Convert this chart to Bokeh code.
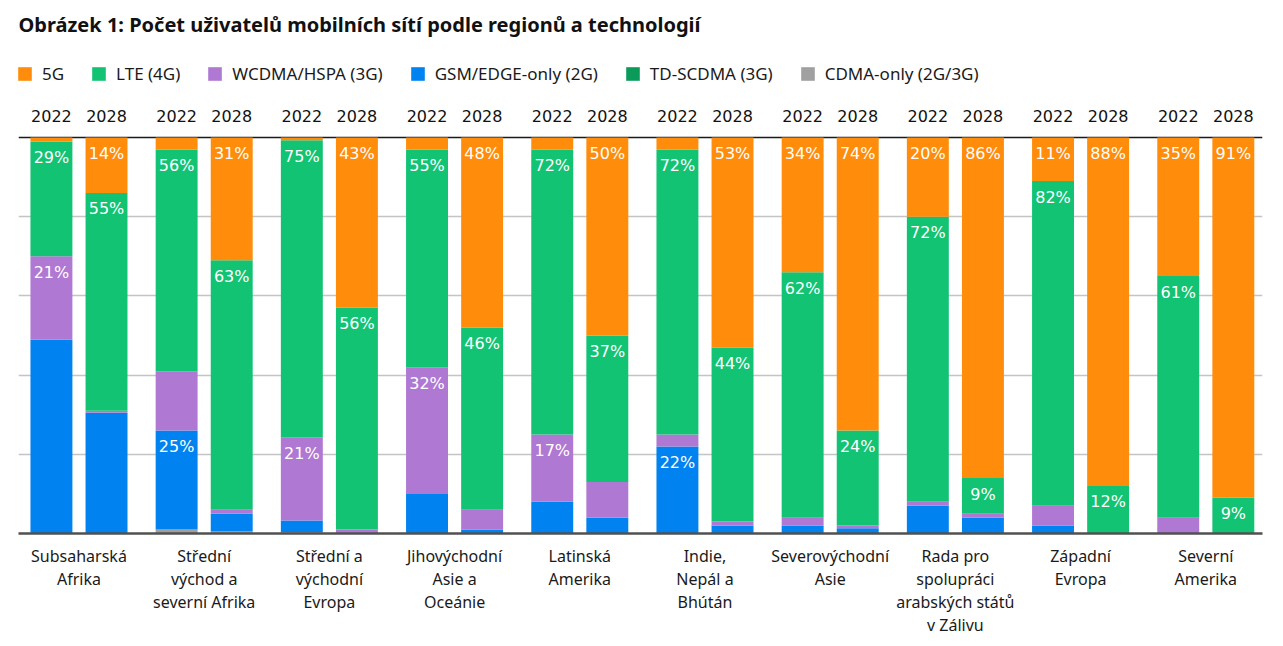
import numpy as np
from bokeh.plotting import figure
from bokeh.models import (ColumnDataSource, Range1d, FixedTicker, Grid, Legend, LegendItem)
from bokeh.core.properties import value
from bokeh.embed import file_html
from bokeh.resources import INLINE

title = "Obrázek 1: Počet uživatelů mobilních sítí podle regionů a technologií"

regions = ["Subsaharská\nAfrika", "Střední\nvýchod a\nseverní Afrika", "Střední a\nvýchodní\nEvropa",
           "Jihovýchodní\nAsie a\nOceánie", "Latinská\nAmerika", "Indie,\nNepál a\nBhútán",
           "Severovýchodní\nAsie", "Rada pro\nspolupráci\narabských států\nv Zálivu",
           "Západní\nEvropa", "Severní\nAmerika"]
years = ["2022", "2028"]

# values per region: (2022, 2028) pairs flattened, in %
cdma    = [0, 0,     1, 0.5,  0.3, 0,   0, 0,   0, 0,   0, 0,   0, 0,     0, 0,   0, 0,    0, 0]
gsm     = [49, 30.5, 25, 4.5, 3, 0,     10, 1,  8, 4,   22, 2,  2, 1.3,   7, 4,   2, 0,    0, 0]
wcdma   = [21, 0.5,  15, 1,   21, 1,    32, 5,  17, 9,  3, 1,   2, 0.7,   1, 1,   5, 0,    4, 0]
tdscdma = [0, 0,     0, 0,    0, 0,     0, 0,   0, 0,   0, 0,   0, 0,     0, 0,   0, 0,    0, 0]
lte     = [29, 55,   56, 63,  75, 56,   55, 46, 72, 37, 72, 44, 62, 24,   72, 9,  82, 12,  61, 9]
g5      = [1, 14,    3, 31,   0.7, 43,  3, 48,  3, 50,  3, 53,  34, 74,   20, 86, 11, 88,  35, 91]

# which segments carry a value label (per bar)
labeled = [["lte", "wcdma"], ["g5", "lte"], ["lte", "gsm"], ["g5", "lte"],
           ["lte", "wcdma"], ["g5", "lte"], ["lte", "wcdma"], ["g5", "lte"],
           ["lte", "wcdma"], ["g5", "lte"], ["lte", "gsm"], ["g5", "lte"],
           ["g5", "lte"], ["g5", "lte"], ["g5", "lte"], ["g5", "lte"],
           ["g5", "lte"], ["g5", "lte"], ["g5", "lte"], ["g5", "lte"]]

techs = ["cdma", "gsm", "wcdma", "tdscdma", "lte", "g5"]
names = {"g5": "5G", "lte": "LTE (4G)", "wcdma": "WCDMA/HSPA (3G)", "gsm": "GSM/EDGE-only (2G)",
         "tdscdma": "TD-SCDMA (3G)", "cdma": "CDMA-only (2G/3G)"}
colors = {"g5": "#FF8C0A", "lte": "#12C373", "wcdma": "#AF78D2", "gsm": "#0082F0",
          "tdscdma": "#0A9B5A", "cdma": "#A0A0A0"}
series = {"cdma": cdma, "gsm": gsm, "wcdma": wcdma, "tdscdma": tdscdma, "lte": lte, "g5": g5}

n = len(regions)
offset = 0.22
xs = []
for i in range(n):
    xs += [i + 0.5 - offset, i + 0.5 + offset]
data = {"x": xs}
data.update({t: series[t] for t in techs})
src = ColumnDataSource(data)

x0, x1 = 0.017, 9.953
ymax = 100 + 137 / 3.96

p = figure(width=1275, height=640, x_range=Range1d(x0, x1), y_range=Range1d(0, ymax),
           output_backend="svg", toolbar_location=None, y_axis_location=None,
           min_border_left=18, min_border_right=13, min_border_top=0, min_border_bottom=107)
p.outline_line_color = None
for g in list(p.xgrid) + list(p.ygrid):
    g.visible = False

renderers = p.vbar_stack(techs, x="x", width=0.335, source=src,
                         color=[colors[t] for t in techs], line_color=None)
rmap = dict(zip(techs, renderers))

p.add_layout(Grid(dimension=1, ticker=FixedTicker(ticks=[20, 40, 60, 80]),
                  grid_line_color="#c4c4c4", grid_line_width=1.5), "center")
p.add_layout(Grid(dimension=1, ticker=FixedTicker(ticks=[100]),
                  grid_line_color="#1a1a1a", grid_line_width=1.5), "center")

ax = p.xaxis[0]
ax.ticker = FixedTicker(ticks=[i + 0.5 for i in range(n)])
ax.major_label_overrides = {i + 0.5: regions[i] for i in range(n)}
ax.major_tick_line_color = None
ax.minor_tick_line_color = None
ax.axis_line_color = "#505050"
ax.axis_line_width = 2.5
ax.major_label_text_font = "Noto Sans"
ax.major_label_text_font_size = "16px"
ax.major_label_text_color = "#1a1a1a"
ax.major_label_text_line_height = 1.05
ax.major_label_standoff = 5

# year labels
p.text(x=xs, y=[100] * len(xs), text=years * n, text_align="center", text_baseline="middle",
       y_offset=-22, text_font=value("DejaVu Sans"), text_font_size="16px", text_color="#111111")

# value labels
stack = np.vstack([np.array(series[t], dtype=float) for t in techs])
tops = np.cumsum(stack, axis=0)
lx, ly, lt = [], [], []
for j in range(len(xs)):
    for t in labeled[j]:
        k = techs.index(t)
        lx.append(xs[j])
        ly.append(tops[k, j])
        lt.append(f"{series[t][j]:.0f}%")
p.text(x=lx, y=ly, text=lt, text_align="center", text_baseline="middle", y_offset=16,
       text_font=value("DejaVu Sans"), text_font_size="16px", text_color="white")

# title
p.text(x=[x0], y=[ymax], text=[title], text_align="left", text_baseline="middle",
       x_offset=0, y_offset=24, text_font=value("Noto Sans"), text_font_size="20px",
       text_font_style="bold", text_color="#111111")

legend_order = ["g5", "lte", "wcdma", "gsm", "tdscdma", "cdma"]
legend = Legend(items=[LegendItem(label=names[t], renderers=[rmap[t]]) for t in legend_order],
                orientation="horizontal", location=(-2, 448), padding=0, margin=0,
                glyph_width=17, glyph_height=17, label_standoff=9, spacing=26,
                label_text_font="Noto Sans", label_text_font_size="17px",
                label_text_color="#1a1a1a", border_line_color=None, background_fill_alpha=0)
p.add_layout(legend, "center")

open("out.html", "w").write(file_html(p, INLINE))
